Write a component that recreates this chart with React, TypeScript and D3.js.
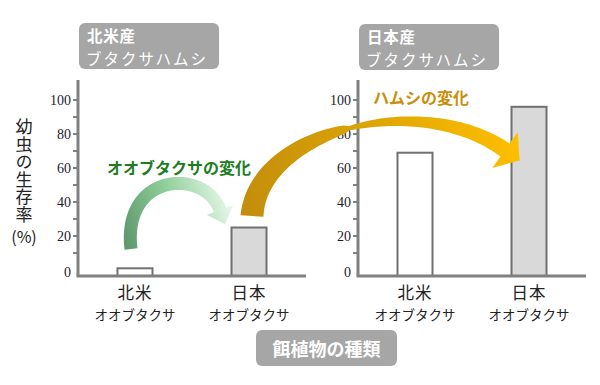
import React from "react";
import * as d3 from "d3";

// データ
const categories = ["北米", "日本"];
const catSub = "オオブタクサ";
const panels = [
  { title1: "北米産", title2: "ブタクサハムシ", values: [1, 25] },
  { title1: "日本産", title2: "ブタクサハムシ", values: [69, 96] },
];
const majorTicks = [0, 20, 40, 60, 80, 100];
const minorTicks = [10, 30, 50, 70, 90];
const yLabel = "幼虫の生存率";
const yUnit = "(%)";

const W = 600;
const H = 385;
const JP = "'Noto Sans CJK JP', 'Noto Sans', sans-serif";
const SERIF = "'Liberation Serif', 'DejaVu Serif', serif";
const AXIS = "#808080";

const y = d3.scaleLinear().domain([0, 100]).range([270, 100]);
const yBase = 276;
const yTop = 80;
const panelX = [
  [78, 306],
  [358, 586],
];
const barW = 35;

type P = [number, number];

// 3次ベジェ曲線に沿ったリボン状の矢印
function ribbonArrow(pts: P[], wf: (t: number) => number, headLen: number, headHalf: number) {
  const [p0, p1, p2, p3] = pts;
  const bez = (t: number): P => {
    const u = 1 - t;
    const a = u * u * u, b = 3 * u * u * t, c = 3 * u * t * t, d = t * t * t;
    return [a * p0[0] + b * p1[0] + c * p2[0] + d * p3[0], a * p0[1] + b * p1[1] + c * p2[1] + d * p3[1]];
  };
  const der = (t: number): P => {
    const u = 1 - t;
    const dx = 3 * u * u * (p1[0] - p0[0]) + 6 * u * t * (p2[0] - p1[0]) + 3 * t * t * (p3[0] - p2[0]);
    const dy = 3 * u * u * (p1[1] - p0[1]) + 6 * u * t * (p2[1] - p1[1]) + 3 * t * t * (p3[1] - p2[1]);
    const l = Math.hypot(dx, dy) || 1;
    return [dx / l, dy / l];
  };
  const N = 80;
  const left: P[] = [];
  const right: P[] = [];
  for (let i = 0; i <= N; i++) {
    const t = i / N;
    const p = bez(t);
    const d = der(t);
    const w = wf(t) / 2;
    left.push([p[0] - d[1] * w, p[1] + d[0] * w]);
    right.push([p[0] + d[1] * w, p[1] - d[0] * w]);
  }
  const e = bez(1);
  const d = der(1);
  const headL: P = [e[0] - d[1] * headHalf, e[1] + d[0] * headHalf];
  const headR: P = [e[0] + d[1] * headHalf, e[1] - d[0] * headHalf];
  const tip: P = [e[0] + d[0] * headLen, e[1] + d[1] * headLen];
  const all = [...left, headL, tip, headR, ...right.reverse()];
  return d3.line()(all as [number, number][]) + "Z";
}

export default function App() {
  const xs = panelX.map((r) => d3.scalePoint<string>().domain(categories).range(r as [number, number]).padding(0.5));

  // 矢印の位置(棒の位置から)
  const lx = xs[0];
  const rx = xs[1];
  const greenPts: P[] = [
    [lx("北米")! - 4, 249],
    [lx("北米")! - 13, 172],
    [lx("日本")! - 44, 168],
    [lx("日本")! - 29, 210],
  ];
  const goldPts: P[] = [
    [lx("日本")! + 3, 216],
    [lx("日本")! + 9, 130],
    [rx("北米")! + 5, 90],
    [rx("日本")! - 24, 150],
  ];
  const greenPath = ribbonArrow(greenPts, () => 13, 15, 14);
  const goldPath = ribbonArrow(
    goldPts,
    (t) => (t < 0.5 ? 4 + 19 * Math.pow(1 - t / 0.5, 0.45) : 4 + 12 * Math.pow((t - 0.5) / 0.5, 0.7)),
    18,
    22
  );

  return (
    <svg width={W} height={H} style={{ position: "absolute", left: 0, top: 0, background: "#fff" }}>
      <defs>
        <linearGradient id="gGreen" gradientUnits="userSpaceOnUse" x1={120} y1={240} x2={232} y2={205}>
          <stop offset="0" stopColor="#5a9468" />
          <stop offset="0.5" stopColor="#8fce9a" />
          <stop offset="1" stopColor="#e8f8ea" />
        </linearGradient>
        <linearGradient id="gGold" gradientUnits="userSpaceOnUse" x1={250} y1={216} x2={520} y2={150}>
          <stop offset="0" stopColor="#c48e0c" />
          <stop offset="0.45" stopColor="#d9a205" />
          <stop offset="1" stopColor="#ffbf00" />
        </linearGradient>
      </defs>

      {/* 縦軸ラベル(縦書き) */}
      <text
        x={24}
        y={118}
        fontSize={17}
        fontFamily={JP}
        fill="#222"
        letterSpacing={0.6}
        style={{ writingMode: "vertical-rl" }}
      >
        {yLabel}
      </text>
      <text x={24} y={236} fontSize={16} fontFamily={JP} fill="#222" textAnchor="middle" dominantBaseline="central">
        {yUnit}
      </text>

      {panels.map((pn, pi) => {
        const x = xs[pi];
        const [x0, x1] = panelX[pi];
        return (
          <g key={pi}>
            {/* タイトル */}
            <rect x={x0 + 1} y={23 + pi} width={140} height={46} rx={6} fill="#a6a6a6" />
            <text x={x0 + 9} y={35 + pi} fontSize={15.5} letterSpacing={0.8} fontWeight="bold" fontFamily={JP} fill="#fff" dominantBaseline="central">
              {pn.title1}
            </text>
            <text x={x0 + 8} y={58 + pi} fontSize={15.5} letterSpacing={2} fontFamily={JP} fill="#fff" dominantBaseline="central">
              {pn.title2}
            </text>

            {/* 棒 */}
            {pn.values.map((v, i) => (
              <rect
                key={i}
                x={x(categories[i])! - barW / 2}
                y={y(v)}
                width={barW}
                height={yBase - y(v)}
                fill={i === 0 ? "#fff" : "#d9d9d9"}
                stroke="#707070"
                strokeWidth={2}
              />
            ))}

            {/* 縦軸 */}
            <line x1={x0} x2={x0} y1={yTop} y2={yBase} stroke={AXIS} strokeWidth={3} />
            {majorTicks.map((t) => (
              <g key={t}>
                {t > 0 && <line x1={x0 - 5} x2={x0} y1={y(t)} y2={y(t)} stroke={AXIS} strokeWidth={2} />}
                <text
                  x={x0 - 7}
                  y={t === 0 ? y(t) + 2 : y(t)}
                  fontSize={14}
                  fontFamily={SERIF}
                  fill="#1c1c2c"
                  textAnchor="end"
                  dominantBaseline="central"
                >
                  {t}
                </text>
              </g>
            ))}
            {minorTicks.map((t) => (
              <line key={t} x1={x0 - 5} x2={x0} y1={y(t)} y2={y(t)} stroke={AXIS} strokeWidth={2} />
            ))}
            {/* 横軸 */}
            <line x1={x0 - 1.5} x2={x1} y1={yBase} y2={yBase} stroke={AXIS} strokeWidth={3} />

            {/* カテゴリ */}
            {categories.map((c) => (
              <g key={c}>
                <text x={x(c)} y={292} fontSize={16.5} letterSpacing={1} fontFamily={JP} fill="#222" textAnchor="middle" dominantBaseline="central">
                  {c}
                </text>
                <text x={x(c)} y={314} fontSize={13.5} fontFamily={JP} fill="#222" textAnchor="middle" dominantBaseline="central">
                  {catSub}
                </text>
              </g>
            ))}
          </g>
        );
      })}

      {/* 矢印 */}
      <path d={greenPath} fill="url(#gGreen)" />
      <path d={goldPath} fill="url(#gGold)" />
      <text x={107} y={167} fontSize={16} fontWeight="bold" fontFamily={JP} fill="#1e7d22" dominantBaseline="central">
        オオブタクサの変化
      </text>
      <text x={373} y={97} fontSize={16} fontWeight="bold" fontFamily={JP} fill="#c98f0a" dominantBaseline="central">
        ハムシの変化
      </text>

      {/* 横軸タイトル */}
      <rect x={256} y={330} width={141} height={36} rx={6} fill="#a6a6a6" />
      <text x={326.5} y={348} fontSize={18} fontWeight="bold" fontFamily={JP} fill="#fff" textAnchor="middle" dominantBaseline="central">
        餌植物の種類
      </text>
    </svg>
  );
}
